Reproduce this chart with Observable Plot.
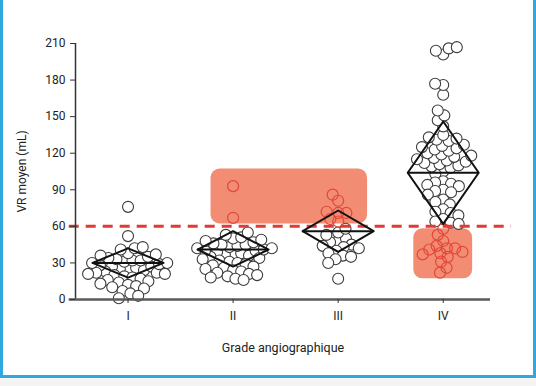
<!DOCTYPE html>
<html>
<head>
<meta charset="utf-8">
<script src="https://cdn.jsdelivr.net/npm/d3@7"></script>
<script src="https://cdn.jsdelivr.net/npm/@observablehq/plot@0.6"></script>
<style>
  html, body { margin: 0; padding: 0; background: #f4f4f4; }
  #frame { position: absolute; left: 0; top: -6px; width: 536px; height: 384px; box-sizing: border-box;
           border: 3px solid #2fa8df; background: #fff; }
  #chart { position: absolute; left: 0; top: 0; }
</style>
</head>
<body>
<div id="frame"></div>
<div id="chart"></div>
<script>
// ---- data ----
const grades = ["I", "II", "III", "IV"];
const valuesI = [76, 52, 43, 42, 41, 38, 37, 36, 35, 34, 33, 32, 32, 31, 30, 30, 29, 28, 27, 27, 26, 25, 25, 24, 23, 22, 22, 21, 21, 20, 19, 18, 17, 16, 15, 14, 13, 12, 11, 10, 9, 7, 5, 3, 1];
const valuesII = [93, 67, 55, 53, 51, 50, 49, 48, 47, 46, 45, 45, 44, 43, 42, 42, 41, 40, 40, 39, 38, 37, 37, 36, 35, 34, 33, 32, 31, 30, 29, 28, 27, 26, 25, 24, 23, 22, 21, 20, 19, 18, 17, 16];
const valuesIII = [86, 81, 72, 71, 71, 66, 64, 58, 55, 53, 50, 48, 47, 45, 44, 43, 42, 40, 38, 36, 35, 33, 30, 17];
const valuesIV = [207, 206, 204, 201, 177, 176, 168, 155, 151, 147, 142, 135, 133, 132, 131, 130, 127, 126, 125, 124, 123, 122, 120, 119, 118, 117, 116, 115, 114, 113, 112, 111, 110, 109, 108, 105, 103, 97, 96, 95, 94, 93, 90, 89, 88, 86, 82, 80, 78, 74, 72, 71, 69, 66, 64, 63, 62,
                  58, 53, 48, 44, 42, 42, 41, 39, 38, 37, 35, 31, 26, 22];
const means = [30, 41, 56, 104];
const ciLow = [18, 27, 39, 62];
const ciHigh = [42, 56, 73, 146];
const yTicks = [0, 30, 60, 90, 120, 150, 180, 210];
const threshold = 60;
// highlighted zones (x in grade units, 1 = I)
const zoneX1 = [1.79, 3.72];
const zoneX2 = [3.28, 4.28];
const zoneLow = [62, 17];
const zoneHigh = [107, 58];

// ---- layout ----
const W = 536, H = 378, mT = 43, mB = 79, mL = 75, mR = 46;
const xDomain = [0.5, 4.45];
const pxX = (W - mL - mR) / (xDomain[1] - xDomain[0]);
const pxY = (H - mT - mB) / 210;
const halfW = 0.338; // diamond half width in grade units
const R = 5.5, D = 8.2;

function inZone(g, v) {
  for (let k = 0; k < zoneX1.length; k++) {
    if (g >= zoneX1[k] && g <= zoneX2[k] && v >= zoneLow[k] && v <= zoneHigh[k]) return true;
  }
  return false;
}

function swarm(vals, g) {
  const placed = [];
  const med = d3.median(vals);
  const sorted = vals.slice().sort((a, b) => Math.abs(a - med) - Math.abs(b - med));
  return sorted.map(v => {
    const py = v * pxY;
    const iv = [];
    for (const p of placed) {
      const dy = Math.abs(p.py - py);
      if (dy < D) { const dx = Math.sqrt(D * D - dy * dy); iv.push([p.px - dx, p.px + dx]); }
    }
    const cands = [0];
    iv.forEach(([a, b]) => cands.push(a, b));
    cands.sort((a, b) => Math.abs(a) - Math.abs(b));
    const px = cands.find(c => iv.every(([a, b]) => c <= a + 1e-6 || c >= b - 1e-6));
    placed.push({px, py});
    return {g, x: g + px / pxX, v, red: inZone(g, v)};
  });
}

const points = [valuesI, valuesII, valuesIII, valuesIV].flatMap((vals, i) => swarm(vals, i + 1));

const diamonds = means.flatMap((m, i) => {
  const g = i + 1;
  return [
    {g, x: g - halfW, y: m}, {g, x: g, y: ciHigh[i]}, {g, x: g + halfW, y: m},
    {g, x: g, y: ciLow[i]}, {g, x: g - halfW, y: m}
  ];
});
const meanLines = means.map((m, i) => ({x1: i + 1 - halfW, x2: i + 1 + halfW, y: m}));
const zones = zoneX1.map((x1, k) => ({x1, x2: zoneX2[k], y1: zoneLow[k], y2: zoneHigh[k]}));

const plot = Plot.plot({
  width: W, height: H,
  marginTop: mT, marginBottom: mB, marginLeft: mL, marginRight: mR,
  style: {fontFamily: "Roboto, sans-serif", background: "transparent", overflow: "visible"},
  x: {domain: xDomain, axis: null},
  y: {domain: [0, 210], axis: null},
  marks: [
    Plot.rect(zones, {x1: "x1", x2: "x2", y1: "y1", y2: "y2", fill: "#f28d73", rx: 9}),
    Plot.dot(points.filter(d => !d.red), {x: "x", y: "v", r: R, fill: "white", stroke: "#3c3c3c", strokeWidth: 1.1}),
    Plot.dot(points.filter(d => d.red), {x: "x", y: "v", r: R, fill: "none", stroke: "#e2473a", strokeWidth: 1.2}),
    Plot.ruleY([threshold], {x1: 0.44, x2: 4.65, stroke: "#e03a33", strokeWidth: 3, strokeDasharray: "10,7"}),
    Plot.line(diamonds, {x: "x", y: "y", z: "g", stroke: "#111", strokeWidth: 2}),
    Plot.ruleY(meanLines, {x1: "x1", x2: "x2", y: "y", stroke: "#111", strokeWidth: 2}),
    Plot.ruleX([xDomain[0]], {y1: 0, y2: 210, stroke: "#333", strokeWidth: 1.5}),
    Plot.ruleY([0], {x1: 0.44, x2: xDomain[1], stroke: "#5a5a5a", strokeWidth: 2.5}),
    Plot.axisY({ticks: yTicks, tickSize: 5, tickPadding: 5, fontSize: 12, label: null, stroke: "#333", color: "#222"}),
    Plot.axisX({ticks: [1, 2, 3, 4], tickFormat: i => grades[i - 1], tickSize: 4, tickPadding: 8, fontSize: 12, label: null, stroke: "#333", color: "#222"}),
    Plot.text(["VR moyen (mL)"], {frameAnchor: "left", textAnchor: "middle", dx: -53, rotate: -90, fontSize: 12, fill: "#222"}),
    Plot.text(["Grade angiographique"], {frameAnchor: "bottom", dy: 52, fontSize: 12.5, fill: "#222"})
  ]
});
document.getElementById("chart").appendChild(plot);
</script>
</body>
</html>
